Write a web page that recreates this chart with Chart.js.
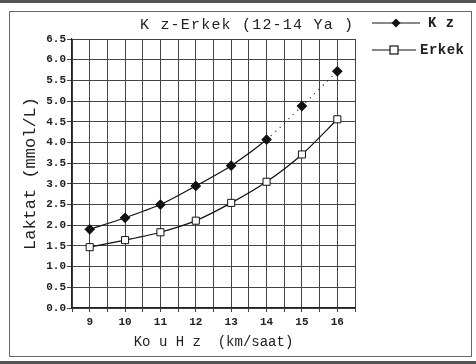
<!DOCTYPE html>
<html><head><meta charset="utf-8">
<script src="https://cdn.jsdelivr.net/npm/chart.js@4"></script>
<style>html,body{margin:0;padding:0;background:#fff}#wrap{width:476px;height:364px}</style>
</head><body><div id="wrap"><canvas id="c" width="476" height="364"></canvas></div>
<script>
const categories = [9, 10, 11, 12, 13, 14, 15, 16];
const kizValues = [1.90, 2.18, 2.50, 2.95, 3.44, 4.07, 4.88, 5.72];
const erkekValues = [1.47, 1.64, 1.83, 2.11, 2.54, 3.05, 3.71, 4.56];
const yTicks = [0,0.5,1,1.5,2,2.5,3,3.5,4,4.5,5,5.5,6,6.5];
const chartTitle = "K z-Erkek (12-14 Ya )";
const seriesNames = ["K z", "Erkek"];
const xTitle = "Ko u H z  (km/saat)";
const yTitle = "Laktat (mmol/L)";

const FONT = "'Liberation Mono', 'DejaVu Sans Mono', monospace";

const decor = {
  id: 'decor',
  beforeDraw(chart) {
    const ctx = chart.ctx;
    ctx.save();
    ctx.fillStyle = '#fff';
    ctx.fillRect(0, 0, chart.width, chart.height);
    ctx.fillStyle = '#555';
    ctx.fillRect(0, 0, chart.width, 3);
    ctx.fillRect(0, 361, chart.width, 3);
    ctx.strokeStyle = '#666';
    ctx.lineWidth = 1;
    ctx.strokeRect(9.5, 11.5, 462, 345);
    ctx.restore();
  },
  afterDraw(chart) {
    const ctx = chart.ctx;
    ctx.save();
    ctx.fillStyle = '#222';
    ctx.font = '15px ' + FONT;
    ctx.letterSpacing = '1.2px';
    ctx.textBaseline = 'middle';
    ctx.textAlign = 'left';
    ctx.fillText(chartTitle, 140, 25);
    // legend
    const rows = [{y: 23, x0: 372, x1: 420, tx: 428}, {y: 50, x0: 372, x1: 416, tx: 420}];
    chart.data.datasets.forEach((ds, i) => {
      const r = rows[i];
      ctx.strokeStyle = '#111';
      ctx.lineWidth = 1.2;
      ctx.beginPath(); ctx.moveTo(r.x0, r.y); ctx.lineTo(r.x1, r.y); ctx.stroke();
      const mx = (r.x0 + r.x1) / 2;
      if (ds.pointStyle === 'rectRot') {
        ctx.fillStyle = '#111';
        ctx.beginPath();
        ctx.moveTo(mx, r.y - 4.5); ctx.lineTo(mx + 4.5, r.y); ctx.lineTo(mx, r.y + 4.5); ctx.lineTo(mx - 4.5, r.y);
        ctx.closePath(); ctx.fill();
      } else {
        ctx.fillStyle = '#fff';
        ctx.fillRect(mx - 4, r.y - 4, 8, 8);
        ctx.strokeRect(mx - 4, r.y - 4, 8, 8);
      }
      ctx.fillStyle = '#222';
      ctx.font = 'bold 14px ' + FONT;
      ctx.letterSpacing = '0.5px';
      ctx.fillText(ds.label, r.tx, r.y);
    });
    ctx.restore();
  }
};

new Chart(document.getElementById('c'), {
  type: 'line',
  data: {
    datasets: [
      {
        label: seriesNames[0],
        data: categories.map((c, i) => ({x: c, y: kizValues[i]})),
        borderColor: '#111', borderWidth: 1.2, tension: 0.25,
        pointStyle: 'rectRot', pointRadius: 4.5, pointBackgroundColor: '#111', pointBorderColor: '#111',
        segment: { borderDash: ctx => ctx.p0DataIndex >= 5 ? [1, 5] : undefined }
      },
      {
        label: seriesNames[1],
        data: categories.map((c, i) => ({x: c, y: erkekValues[i]})),
        borderColor: '#111', borderWidth: 1.2, tension: 0.25,
        pointStyle: 'rect', pointRadius: 5, pointBackgroundColor: '#fff', pointBorderColor: '#111', pointBorderWidth: 1
      }
    ]
  },
  options: {
    responsive: false, animation: false,
    layout: { padding: { left: 12, top: 39, right: 121, bottom: 10 } },
    plugins: { legend: { display: false }, title: { display: false }, tooltip: { enabled: false } },
    scales: {
      x: {
        type: 'linear', min: 8.5, max: 16.5,
        afterBuildTicks: s => { s.ticks = []; for (let v = 8.5; v <= 16.5001; v += 0.5) s.ticks.push({value: v}); },
        afterFit: s => { s.height = 364 - 308 - 10; },
        grid: { color: '#444', lineWidth: 1, tickLength: 4, drawTicks: true },
        border: { color: '#222', width: 1.2 },
        ticks: { color: '#222', padding: 4, maxRotation: 0, autoSkip: false,
          font: { family: FONT, size: 11, weight: 'bold' },
          callback: v => (Number.isInteger(v) && categories.includes(v)) ? String(v) : '' },
        title: { display: true, text: xTitle, color: '#222', padding: { top: 0, bottom: 3 },
          font: { family: FONT, size: 14 } }
      },
      y: {
        min: 0, max: 6.5,
        afterBuildTicks: s => { s.ticks = yTicks.map(v => ({value: v})); },
        afterFit: s => { s.width = 72 - 12; },
        grid: { color: '#444', lineWidth: 1, tickLength: 5 },
        border: { color: '#222', width: 1.2 },
        ticks: { color: '#222', padding: 1, font: { family: FONT, size: 11, weight: 'bold' },
          callback: v => v.toFixed(1) },
        title: { display: true, text: yTitle, color: '#222', padding: { top: 8, bottom: 0 },
          font: { family: FONT, size: 17 } }
      }
    }
  },
  plugins: [decor]
});
</script></body></html>
